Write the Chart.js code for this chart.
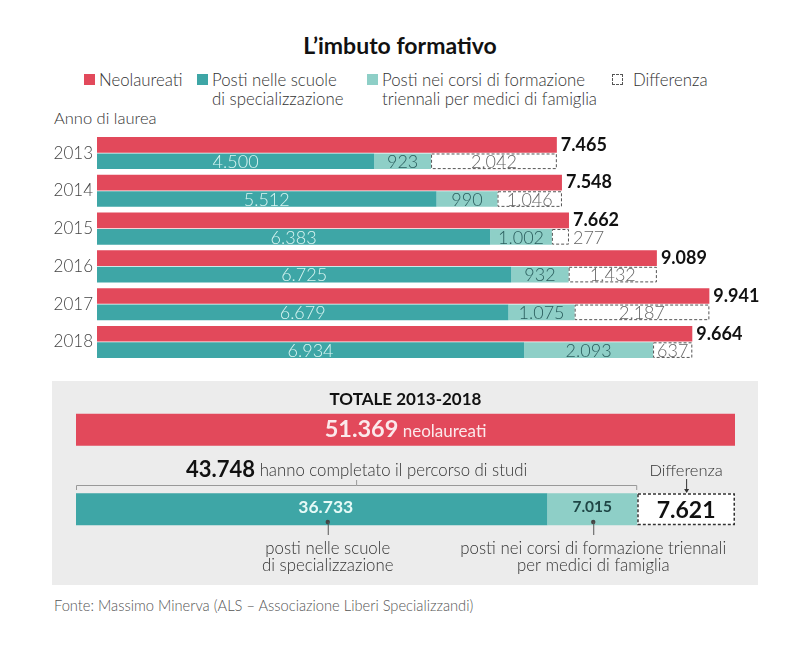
<!DOCTYPE html>
<html>
<head>
<meta charset="utf-8">
<script src="https://cdn.jsdelivr.net/npm/chart.js@4.4.1/dist/chart.umd.min.js"></script>
<style>
  body { margin: 0; width: 800px; height: 646px; position: relative; overflow: hidden; background: #fff; font-family: Lato, "Open Sans", sans-serif; color: #333; }
  #title { position: absolute; left: 0; width: 800px; top: 31px; text-align: center; font-weight: 700; font-size: 23px; color: #111; }
  .sq { position: absolute; top: 74px; width: 11px; height: 11px; box-sizing: border-box; }
  .lg { position: absolute; top: 70px; font-size: 16.8px; line-height: 19px; font-weight: 300; color: #333; }
  #anno { position: absolute; left: 54px; top: 108px; font-size: 16.5px; font-weight: 300; color: #333; }
  #topWrap { position: absolute; left: 0; top: 120px; width: 800px; height: 255px; }
  #panel { position: absolute; left: 52px; top: 381px; width: 706px; height: 204px; background: #ececec; }
  #fonte { position: absolute; left: 54px; top: 596px; font-size: 14.7px; font-weight: 300; color: #555; }
</style>
</head>
<body>
<div id="title">L’imbuto formativo</div>

<div class="sq" style="left:84px;background:#e2495b"></div>
<div class="lg" style="left:99px">Neolaureati</div>
<div class="sq" style="left:197px;background:#3ea6a6"></div>
<div class="lg" style="left:212px">Posti nelle scuole<br>di specializzazione</div>
<div class="sq" style="left:367px;background:#8ecfc7"></div>
<div class="lg" style="left:382px">Posti nei corsi di formazione<br>triennali per medici di famiglia</div>
<div class="sq" style="left:612px;border:1px dashed #555"></div>
<div class="lg" style="left:633px">Differenza</div>

<div id="anno">Anno di laurea</div>
<div id="topWrap"><canvas id="topChart" width="800" height="255"></canvas></div>
<div id="panel"><canvas id="totChart" width="706" height="204"></canvas></div>
<div id="fonte">Fonte: Massimo Minerva (ALS – Associazione Liberi Specializzandi)</div>

<script>
// anni di laurea
const years = ['2013', '2014', '2015', '2016', '2017', '2018'];
const neolaureati = [7465, 7548, 7662, 9089, 9941, 9664];
const postiSpecializzazione = [4500, 5512, 6383, 6725, 6679, 6934];
const postiMediciFamiglia = [923, 990, 1002, 932, 1075, 2093];
const differenza = [2042, 1046, 277, 1432, 2187, 637];

// totale 2013-2018
const totCategorie = ['Neolaureati', 'Percorso'];
const totNeolaureati = [51369, null];
const totSpecializzazione = [null, 36733];
const totMediciFamiglia = [null, 7015];
const totDifferenza = [null, 7621];
const totCompletati = 43748;

const RED = '#e2495b', TEAL = '#3ea6a6', LTEAL = '#8ecfc7';
const FONT = 'Lato, "Open Sans", sans-serif';

const fmt = v => String(v).replace(/\B(?=(\d{3})+(?!\d))/g, '.');

function dashedBox(ctx, el, color, lw) {
    const h = el.height;
    ctx.save();
    ctx.setLineDash([3, 2]);
    ctx.strokeStyle = color;
    ctx.lineWidth = lw;
    ctx.strokeRect(el.base + lw / 2, el.y - h / 2 + lw / 2, el.x - el.base - lw, h - lw);
    ctx.restore();
}

const topLabels = {
    id: 'topLabels',
    afterDatasetsDraw(chart) {
        const ctx = chart.ctx;
        const data = i => chart.getDatasetMeta(i).data;
        ctx.save();
        ctx.textBaseline = 'middle';
        years.forEach((y, i) => {
            const r = data(0)[i], a = data(1)[i], b = data(2)[i], d = data(3)[i];
            dashedBox(ctx, d, '#555', 1);

            ctx.font = '700 18px ' + FONT;
            ctx.fillStyle = '#111';
            ctx.textAlign = 'left';
            ctx.fillText(fmt(neolaureati[i]), r.x + 4, r.y);

            ctx.font = '300 18px ' + FONT;
            ctx.textAlign = 'center';
            ctx.fillStyle = '#d9f5f2';
            ctx.fillText(fmt(postiSpecializzazione[i]), (a.x + a.base) / 2, a.y + 1);
            ctx.fillStyle = '#2b5e5e';
            ctx.fillText(fmt(postiMediciFamiglia[i]), (b.x + b.base) / 2, b.y + 1);

            ctx.fillStyle = '#666';
            const t = fmt(differenza[i]);
            if (ctx.measureText(t).width + 6 < d.x - d.base) {
                ctx.fillText(t, (d.x + d.base) / 2, d.y + 1);
            } else {
                ctx.textAlign = 'left';
                ctx.fillText(t, d.x + 4, d.y + 1);
            }
        });
        ctx.restore();
    }
};

new Chart(document.getElementById('topChart').getContext('2d'), {
    type: 'bar',
    data: {
        labels: years,
        datasets: [
            { label: 'Neolaureati', data: neolaureati, backgroundColor: RED, stack: 'n' },
            { label: 'Posti nelle scuole di specializzazione', data: postiSpecializzazione, backgroundColor: TEAL, stack: 'p' },
            { label: 'Posti nei corsi di formazione triennali per medici di famiglia', data: postiMediciFamiglia, backgroundColor: LTEAL, stack: 'p' },
            { label: 'Differenza', data: differenza, backgroundColor: '#fff', stack: 'p' }
        ]
    },
    options: {
        indexAxis: 'y',
        responsive: false,
        animation: false,
        events: [],
        datasets: { bar: { categoryPercentage: 0.87, barPercentage: 0.95 } },
        layout: { padding: { top: 12, bottom: 9, left: 0, right: 25.4 } },
        plugins: { legend: { display: false }, tooltip: { enabled: false } },
        scales: {
            x: { stacked: true, min: 0, max: 11000, display: false },
            y: {
                stacked: true,
                grid: { display: false, drawTicks: false },
                border: { display: false },
                ticks: { padding: 4, color: '#444', font: { family: FONT, size: 17, weight: '300' } },
                afterFit(s) { s.width = 97; }
            }
        }
    },
    plugins: [topLabels]
});

const totLabels = {
    id: 'totLabels',
    afterDatasetsDraw(chart) {
        const ctx = chart.ctx;
        const xs = chart.scales.x;
        const area = chart.chartArea;
        const red = chart.getDatasetMeta(0).data[0];
        const spec = chart.getDatasetMeta(1).data[1];
        const med = chart.getDatasetMeta(2).data[1];
        const diff = chart.getDatasetMeta(3).data[1];
        ctx.save();
        ctx.textBaseline = 'middle';
        ctx.textAlign = 'center';

        ctx.font = '700 17px ' + FONT;
        ctx.fillStyle = '#111';
        ctx.fillText('TOTALE 2013-2018', (area.left + area.right) / 2, 19);

        // red total label
        const big = fmt(totNeolaureati[0]), small = ' neolaureati';
        ctx.font = '700 23.5px ' + FONT;
        const w1 = ctx.measureText(big).width;
        ctx.font = '400 17px ' + FONT;
        const w2 = ctx.measureText(small).width;
        let sx = (red.x + red.base) / 2 - (w1 + w2) / 2;
        ctx.textAlign = 'left';
        ctx.fillStyle = '#fbe9eb';
        ctx.font = '700 23.5px ' + FONT;
        ctx.fillText(big, sx, red.y);
        ctx.font = '400 17px ' + FONT;
        ctx.fillText(small, sx + w1, red.y + 2);

        // completed + bracket
        const x0 = xs.getPixelForValue(0), xc = xs.getPixelForValue(totCompletati);
        const b1 = fmt(totCompletati), b2 = ' hanno completato il percorso di studi';
        ctx.font = '700 22px ' + FONT;
        const v1 = ctx.measureText(b1).width;
        ctx.font = '300 16.8px ' + FONT;
        const v2 = ctx.measureText(b2).width;
        sx = (x0 + xc) / 2 - (v1 + v2) / 2;
        ctx.fillStyle = '#111';
        ctx.font = '700 22px ' + FONT;
        ctx.fillText(b1, sx, 89);
        ctx.fillStyle = '#333';
        ctx.font = '300 16.8px ' + FONT;
        ctx.fillText(b2, sx + v1, 90);

        ctx.strokeStyle = '#999';
        ctx.lineWidth = 1;
        ctx.beginPath();
        ctx.moveTo(x0 + 0.5, 109); ctx.lineTo(x0 + 0.5, 104.5);
        ctx.lineTo(xc - 0.5, 104.5); ctx.lineTo(xc - 0.5, 109);
        ctx.moveTo((x0 + xc) / 2, 104.5); ctx.lineTo((x0 + xc) / 2, 99);
        ctx.stroke();

        // differenza
        const dc = (diff.x + diff.base) / 2;
        ctx.textAlign = 'center';
        ctx.fillStyle = '#333';
        ctx.font = '300 16.5px ' + FONT;
        ctx.fillText('Differenza', dc, 90);
        ctx.strokeStyle = '#333';
        ctx.beginPath();
        ctx.moveTo(dc + 0.5, 98); ctx.lineTo(dc + 0.5, 111);
        ctx.stroke();
        ctx.fillStyle = '#333';
        ctx.beginPath();
        ctx.moveTo(dc - 2, 108); ctx.lineTo(dc + 3, 108); ctx.lineTo(dc + 0.5, 112);
        ctx.fill();
        dashedBox(ctx, diff, '#333', 1.5);
        ctx.font = '700 23px ' + FONT;
        ctx.fillStyle = '#111';
        ctx.fillText(fmt(totDifferenza[1]), dc, diff.y + 1);

        // bar values with pointers
        const sc = spec.base + (spec.x - spec.base) * 0.53;
        const mc = (med.x + med.base) / 2;
        ctx.font = '700 17.5px ' + FONT;
        ctx.fillStyle = '#e6faf7';
        ctx.fillText(fmt(totSpecializzazione[1]), sc, spec.y - 2);
        ctx.font = '700 15.5px ' + FONT;
        ctx.fillStyle = '#1f4646';
        ctx.fillText(fmt(totMediciFamiglia[1]), mc, med.y - 2);

        ctx.fillStyle = '#444';
        ctx.strokeStyle = '#555';
        [sc + 2, mc + 1].forEach(px => {
            ctx.beginPath();
            ctx.arc(px, 141, 2.2, 0, Math.PI * 2);
            ctx.fill();
            ctx.beginPath();
            ctx.moveTo(px + 0.5, 141); ctx.lineTo(px + 0.5, 154);
            ctx.stroke();
        });

        ctx.font = '300 16.8px ' + FONT;
        ctx.fillStyle = '#333';
        ctx.fillText('posti nelle scuole', sc + 2, 168);
        ctx.fillText('di specializzazione', sc + 2, 185);
        ctx.fillText('posti nei corsi di formazione triennali', mc + 1, 168);
        ctx.fillText('per medici di famiglia', mc + 1, 185);
        ctx.restore();
    }
};

new Chart(document.getElementById('totChart').getContext('2d'), {
    type: 'bar',
    data: {
        labels: totCategorie,
        datasets: [
            { label: 'Neolaureati', data: totNeolaureati, backgroundColor: RED },
            { label: 'Posti nelle scuole di specializzazione', data: totSpecializzazione, backgroundColor: TEAL },
            { label: 'Posti nei corsi di formazione triennali per medici di famiglia', data: totMediciFamiglia, backgroundColor: LTEAL },
            { label: 'Differenza', data: totDifferenza, backgroundColor: '#fff' }
        ]
    },
    options: {
        indexAxis: 'y',
        responsive: false,
        animation: false,
        events: [],
        datasets: { bar: { categoryPercentage: 1, barPercentage: 0.4 } },
        layout: { padding: { top: 9, bottom: 36, left: 24, right: 23 } },
        plugins: { legend: { display: false }, tooltip: { enabled: false } },
        scales: {
            x: { stacked: true, min: 0, max: 51369, display: false },
            y: { stacked: true, display: false }
        }
    },
    plugins: [totLabels]
});
</script>
</body>
</html>
